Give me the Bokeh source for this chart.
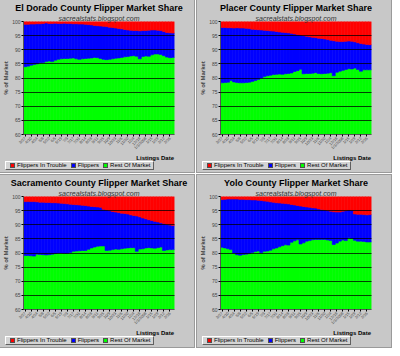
from math import pi
from bokeh.plotting import figure
from bokeh.models import Title, FixedTicker, Range1d, ColumnDataSource, Div
from bokeh.layouts import row, column
from bokeh.embed import file_html
from bokeh.resources import INLINE

# ---------------- data (percent of market) ----------------
weeks = list(range(50))
tick_positions = list(range(0, 50, 2))
tick_labels = ["3/27", "4/10", "4/24", "5/8", "5/22", "6/5", "6/19", "7/3",
               "7/17", "7/31", "8/14", "8/28", "9/11", "9/25", "10/9",
               "10/23", "11/6", "11/20", "12/4", "12/18", "1/1/2008",
               "1/15", "1/29", "2/12", "2/26"]

series_names = ["Flippers In Trouble", "Flippers", "Rest Of Market"]

# Rest Of Market share (top of green)
eldorado_rest = [84.0, 84.2, 84.5, 84.8, 85.0, 85.4, 85.5, 85.8, 86.0, 85.8,
                 86.3, 86.6, 86.8, 86.9, 86.9, 87.0, 87.1, 86.8, 86.6, 86.8,
                 86.9, 87.0, 87.1, 87.3, 87.2, 86.9, 86.6, 86.5, 86.6, 86.8,
                 87.0, 87.1, 87.3, 87.5, 87.6, 87.8, 87.9, 87.7, 86.8, 87.6,
                 87.8, 87.7, 88.2, 88.5, 88.5, 88.3, 87.9, 87.4, 87.2, 87.3]
# Rest Of Market + Flippers (top of blue)
eldorado_top = [99.0, 99.0, 99.1, 99.1, 99.2, 99.2, 99.3, 99.5, 99.3, 99.3,
                99.4, 99.3, 99.3, 99.4, 99.3, 99.3, 99.2, 99.2, 99.1, 99.1,
                99.0, 98.9, 98.8, 98.6, 98.5, 98.4, 98.3, 98.2, 98.0, 97.9,
                97.7, 97.5, 97.4, 97.2, 97.0, 96.9, 96.8, 96.8, 96.7, 96.8,
                96.8, 96.9, 97.0, 97.0, 96.9, 96.8, 96.5, 96.1, 96.0, 95.9]

placer_rest = [78.3, 78.4, 78.5, 79.1, 78.6, 78.4, 78.3, 78.3, 78.4, 78.5,
               78.8, 79.1, 79.5, 80.0, 80.5, 80.8, 81.0, 81.2, 81.3, 81.4,
               81.3, 81.5, 81.6, 81.8, 82.3, 82.6, 83.1, 81.5, 81.6, 81.6,
               81.7, 81.9, 81.6, 81.5, 81.6, 81.7, 81.9, 80.8, 82.0, 82.4,
               82.7, 83.0, 83.3, 83.2, 83.5, 83.0, 82.4, 82.9, 82.9, 82.9]
placer_top = [97.9, 97.9, 97.8, 97.8, 97.7, 97.8, 97.7, 97.7, 97.6, 97.5,
              97.3, 97.2, 97.1, 97.0, 96.9, 96.8, 96.7, 96.6, 96.5, 96.3,
              96.2, 96.1, 96.0, 95.8, 95.6, 95.4, 95.2, 95.0, 94.8, 94.6,
              94.4, 94.3, 94.1, 94.0, 93.8, 93.6, 93.4, 93.2, 93.0, 92.9,
              92.9, 93.0, 93.1, 93.0, 92.8, 92.5, 92.2, 92.0, 91.9, 91.8]

sacramento_rest = [79.1, 79.1, 79.0, 78.9, 79.6, 79.5, 79.4, 79.3, 79.4, 79.6,
                   79.8, 80.0, 80.0, 79.9, 79.9, 80.2, 80.6, 80.7, 80.8, 80.9,
                   80.9, 81.3, 81.8, 82.1, 82.4, 82.5, 82.5, 80.9, 81.0, 81.2,
                   81.4, 81.3, 81.5, 81.7, 81.8, 81.9, 81.9, 80.6, 81.4, 81.5,
                   81.8, 81.9, 81.8, 81.7, 81.9, 82.1, 80.9, 81.1, 81.2, 81.2]
sacramento_top = [98.2, 98.2, 98.2, 98.2, 98.1, 98.0, 98.0, 97.9, 97.9, 97.8,
                  97.8, 97.7, 97.6, 97.5, 97.4, 97.3, 97.2, 97.1, 97.0, 96.9,
                  96.8, 96.6, 96.5, 96.4, 96.3, 96.2, 95.5, 95.2, 95.0, 94.7,
                  94.5, 94.3, 94.1, 94.0, 93.8, 93.5, 93.3, 93.1, 92.8, 92.4,
                  92.1, 91.8, 91.5, 91.2, 91.0, 90.7, 90.4, 90.1, 89.9, 89.7]

yolo_rest = [82.0, 81.8, 81.5, 81.2, 80.0, 79.4, 79.2, 79.5, 79.6, 79.8,
             80.2, 80.5, 80.7, 80.1, 80.6, 80.7, 81.0, 81.5, 81.8, 82.2,
             82.6, 82.9, 82.8, 83.8, 84.3, 84.7, 83.2, 83.6, 84.2, 84.4,
             84.7, 84.8, 84.8, 84.8, 84.8, 84.6, 84.4, 83.0, 83.5, 84.2,
             84.6, 84.4, 85.4, 85.2, 84.5, 84.2, 84.2, 84.1, 83.9, 83.9]
yolo_top = [98.9, 99.0, 99.1, 99.1, 99.1, 99.1, 99.0, 99.0, 98.9, 98.9,
            98.8, 98.8, 98.7, 98.6, 98.4, 98.3, 98.1, 98.0, 97.8, 97.7,
            97.6, 97.5, 97.4, 97.2, 97.0, 96.8, 96.6, 96.5, 96.3, 96.2,
            96.0, 95.9, 95.6, 95.4, 95.2, 95.0, 94.8, 94.6, 94.5, 94.5,
            94.8, 95.0, 95.2, 95.1, 93.8, 93.7, 93.7, 93.6, 93.5, 93.6]

RED, BLUE, GREEN = "#ff0000", "#0000ff", "#00ff00"
PANEL = "#c8c8c8"
FONT = "Liberation Sans"
W, H_CHART, H_LEG = 194, 155, 17
BORDER_L, BORDER_R = 18, 20


def legend_html():
    colors = [RED, BLUE, GREEN]
    items = "".join(
        f'<span style="display:inline-block;width:5px;height:5px;'
        f'background:{c};border:0.5px solid #505050;margin:0 2px 0 4px;'
        f'vertical-align:middle;"></span>'
        f'<span style="vertical-align:middle;">{n}</span>'
        for c, n in zip(colors, series_names))
    return (
        f'<div style="position:relative;width:{W}px;height:{H_LEG}px;'
        f'background:{PANEL};font-family:\'{FONT}\';color:#000;">'
        f'<div style="position:absolute;right:{BORDER_R}px;top:0px;'
        f'font-size:6px;font-weight:bold;line-height:7px;">Listings Date</div>'
        f'<div style="position:absolute;left:5px;top:6px;height:9px;'
        f'box-sizing:border-box;padding-right:3px;background:#d4d4d4;'
        f'border-top:1px solid #fff;border-left:1px solid #fff;'
        f'border-right:1px solid #606060;border-bottom:1px solid #606060;'
        f'font-size:6px;line-height:7px;white-space:nowrap;">{items}</div>'
        f'</div>')


def make_panel(county, rest, top):
    flippers = [t - r for t, r in zip(top, rest)]
    trouble = [100 - t for t in top]
    src = ColumnDataSource(dict(x=weeks, rest=rest, flippers=flippers,
                                trouble=trouble))
    p = figure(width=W, height=H_CHART, output_backend="svg",
               toolbar_location=None,
               x_range=Range1d(-0.5, 49.5), y_range=Range1d(60, 100),
               min_border_left=BORDER_L, min_border_right=BORDER_R,
               min_border_top=1, min_border_bottom=0)
    p.border_fill_color = PANEL
    p.background_fill_color = PANEL
    p.outline_line_color = None

    p.vbar_stack(["rest", "flippers", "trouble"], x="x", width=1.0,
                 source=src, fill_color=[GREEN, BLUE, RED],
                 line_color=[GREEN, BLUE, RED], line_width=0.6)

    # titles (p.title is outermost)
    p.title.text = f"{county} County Flipper Market Share"
    p.title.text_font = FONT
    p.title.text_font_style = "bold"
    p.title.text_font_size = "9px"
    p.title.text_color = "#000000"
    p.title.align = "center"
    p.title.standoff = 0
    p.title.offset = 0
    p.add_layout(Title(text="sacrealstats.blogspot.com", text_font=FONT,
                       text_font_style="italic", text_font_size="7px",
                       text_color="#333333", align="center", standoff=0,
                       offset=0), "above")

    # axes
    p.yaxis.ticker = FixedTicker(ticks=list(range(60, 101, 5)))
    p.yaxis.major_label_text_font_size = "5px"
    p.yaxis.major_label_text_font = FONT
    p.yaxis.major_label_standoff = 1
    p.yaxis.major_tick_out = 2
    p.yaxis.major_tick_in = 0
    p.yaxis.minor_tick_line_color = None
    p.yaxis.axis_line_color = "#555555"
    p.yaxis.axis_label = "% of Market"
    p.yaxis.axis_label_text_font = FONT
    p.yaxis.axis_label_text_font_size = "6px"
    p.yaxis.axis_label_text_font_style = "bold"
    p.yaxis.axis_label_standoff = 0

    p.xaxis.ticker = FixedTicker(ticks=tick_positions)
    p.xaxis.major_label_overrides = {t: l for t, l in
                                     zip(tick_positions, tick_labels)}
    p.xaxis.major_label_orientation = pi / 4
    p.xaxis.major_label_text_font_size = "4px"
    p.xaxis.major_label_text_font = FONT
    p.xaxis.major_label_standoff = 1
    p.xaxis.major_tick_out = 2
    p.xaxis.major_tick_in = 0
    p.xaxis.minor_tick_line_color = None
    p.xaxis.axis_line_color = "#555555"

    p.xgrid.grid_line_color = None
    p.ygrid.ticker = FixedTicker(ticks=list(range(65, 100, 5)))
    p.ygrid.grid_line_color = "#000000"
    p.ygrid.grid_line_alpha = 0.75
    p.ygrid.grid_line_width = 1
    p.ygrid.level = "overlay"

    strip = Div(text=legend_html(), width=W, height=H_LEG,
                styles={"background-color": PANEL, "margin": "0",
                        "padding": "0", "overflow": "hidden"})

    panel = column(p, strip, spacing=0)
    panel.styles = {"outline": "1px solid #9a9a9a",
                    "background-color": PANEL}
    return panel


p1 = make_panel("El Dorado", eldorado_rest, eldorado_top)
p2 = make_panel("Placer", placer_rest, placer_top)
p3 = make_panel("Sacramento", sacramento_rest, sacramento_top)
p4 = make_panel("Yolo", yolo_rest, yolo_top)

layout = column(row(p1, p2, spacing=3), row(p3, p4, spacing=3), spacing=3)

open("out.html", "w").write(file_html(layout, INLINE))
